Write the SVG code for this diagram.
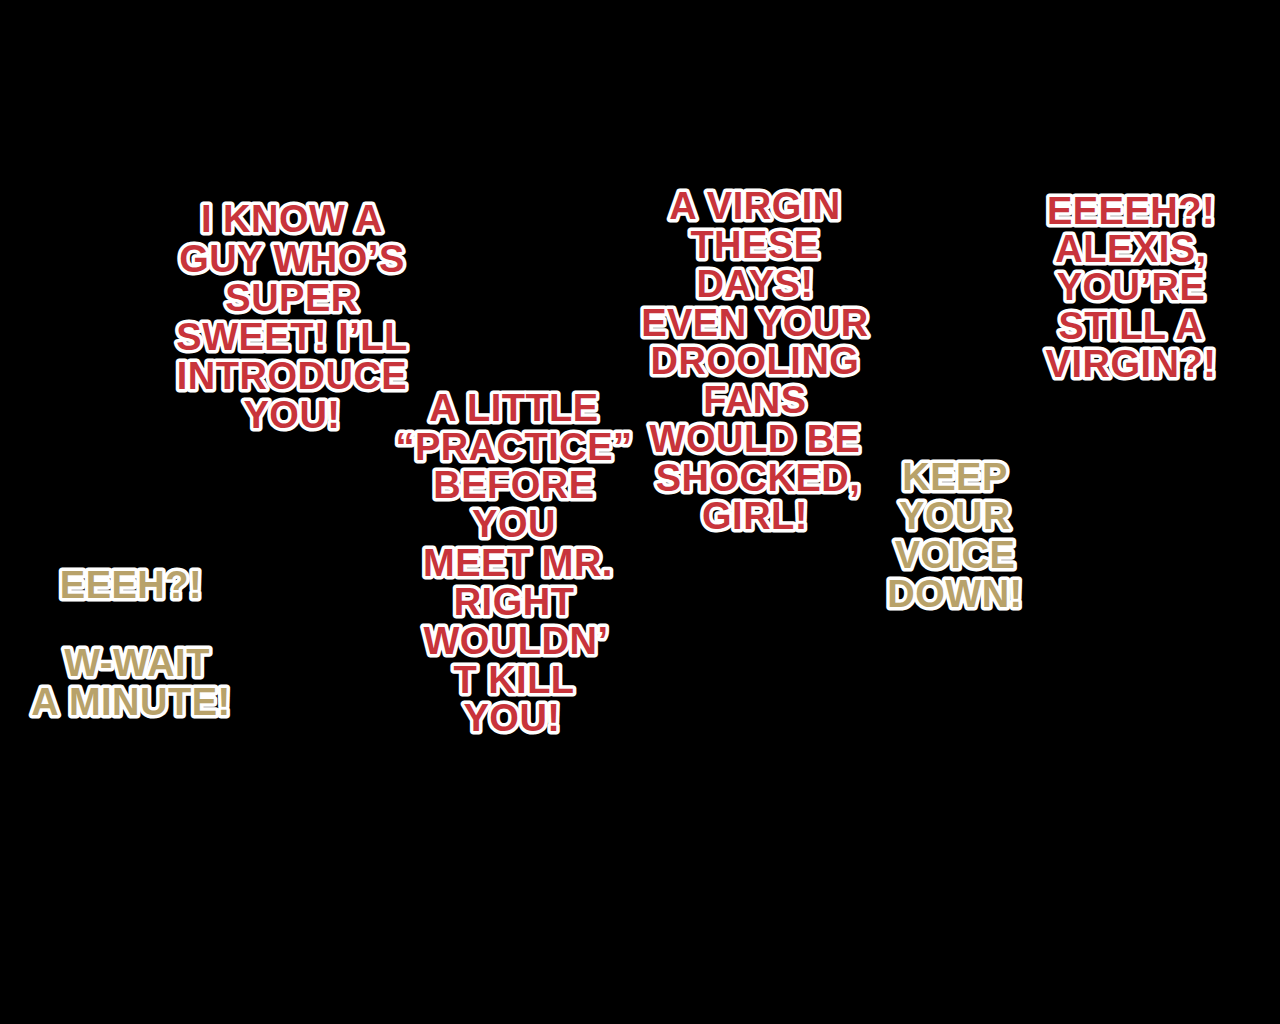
<svg xmlns="http://www.w3.org/2000/svg" width="1280" height="1024" viewBox="0 0 1280 1024">
<style>
text{font-family:"Liberation Sans","DejaVu Sans",sans-serif;font-weight:bold;font-size:38px;text-anchor:middle;stroke:#ffffff;stroke-width:7px;stroke-linejoin:round;paint-order:stroke fill;letter-spacing:0.5px}
.r{fill:#c8343b}
.g{fill:#b8a26a}
</style>
<rect x="0" y="0" width="1280" height="1024" fill="#000000"/>
<g id="bubble1">
<text class="r" x="292" y="232">I KNOW A</text>
<text class="r" x="292" y="272">GUY WHO’S</text>
<text class="r" x="292" y="311">SUPER</text>
<text class="r" x="292" y="350">SWEET! I’LL</text>
<text class="r" x="292" y="389">INTRODUCE</text>
<text class="r" x="292" y="428">YOU!</text>
</g>
<g id="bubble2">
<text class="r" x="514" y="421">A LITTLE</text>
<text class="r" x="514" y="460">“PRACTICE”</text>
<text class="r" x="514" y="498">BEFORE</text>
<text class="r" x="514" y="537">YOU</text>
<text class="r" x="518" y="576">MEET MR.</text>
<text class="r" x="514" y="615">RIGHT</text>
<text class="r" x="516" y="654">WOULDN’</text>
<text class="r" x="514" y="693">T KILL</text>
<text class="r" x="512" y="731">YOU!</text>
</g>
<g id="bubble3">
<text class="r" x="755" y="219">A VIRGIN</text>
<text class="r" x="755" y="258">THESE</text>
<text class="r" x="755" y="297">DAYS!</text>
<text class="r" x="755" y="336">EVEN YOUR</text>
<text class="r" x="755" y="374">DROOLING</text>
<text class="r" x="755" y="413">FANS</text>
<text class="r" x="755" y="452">WOULD BE</text>
<text class="r" x="758" y="491">SHOCKED,</text>
<text class="r" x="755" y="529">GIRL!</text>
</g>
<g id="bubble4">
<text class="r" x="1131" y="224">EEEEH?!</text>
<text class="r" x="1131" y="262">ALEXIS,</text>
<text class="r" x="1131" y="300">YOU’RE</text>
<text class="r" x="1131" y="339">STILL A</text>
<text class="r" x="1131" y="377">VIRGIN?!</text>
</g>
<g id="bubble5">
<text class="g" x="955" y="490">KEEP</text>
<text class="g" x="955" y="529">YOUR</text>
<text class="g" x="955" y="568">VOICE</text>
<text class="g" x="955" y="607">DOWN!</text>
</g>
<g id="bubble6">
<text class="g" x="131" y="598">EEEH?!</text>
<text class="g" x="137" y="676">W-WAIT</text>
<text class="g" x="131" y="715">A MINUTE!</text>
</g>
</svg>
